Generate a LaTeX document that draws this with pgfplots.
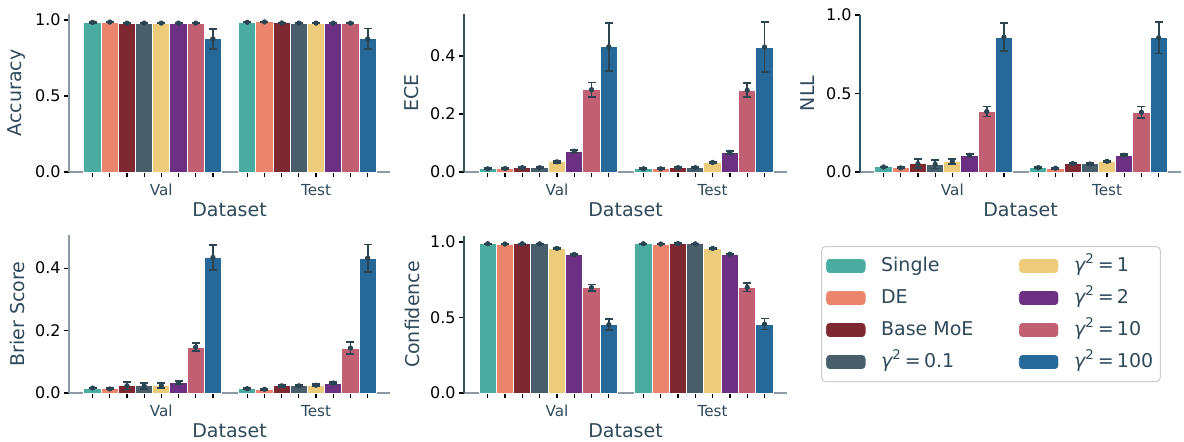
\documentclass[border=0pt]{standalone}
\usepackage{fontspec}
\setmainfont{DejaVu Sans}
\usepackage{pgfplots}
\pgfplotsset{compat=1.18}
\definecolor{cSingle}{HTML}{4AABA0}
\definecolor{cDE}{HTML}{EA846C}
\definecolor{cMoE}{HTML}{7E2932}
\definecolor{cgA}{HTML}{485F6B}
\definecolor{cgB}{HTML}{ECCC7B}
\definecolor{cgC}{HTML}{6C3082}
\definecolor{cgD}{HTML}{C06072}
\definecolor{cgE}{HTML}{266998}
\definecolor{errc}{HTML}{2B4452}
\definecolor{textc}{HTML}{2E4A5A}
\definecolor{spineg}{HTML}{8C9BA3}
\definecolor{spined}{HTML}{2B5266}
\newcommand{\xtickfont}{\fontsize{7.6}{9}\selectfont}
\newcommand{\ytickfont}{\fontsize{8}{9.5}\selectfont}
\newcommand{\labfont}{\fontsize{9.5}{11}\selectfont}
\newcommand{\gam}[1]{{\itshape γ}\textsuperscript{2}\,=\,#1}
\pgfplotsset{
  base/.style={
    scale only axis, anchor=south west, clip=false,
    xmin=-1.37, xmax=17.3, ymin=0,
    axis x line*=bottom, axis y line*=left,
    axis line style={-, line width=0.7pt, color=spineg},
    xtick={0,1,2,3,4,5,6,7,9,10,11,12,13,14,15,16},
    xticklabels={,,,,Val,,,,,,,,Test,,,},
    tick align=outside, major tick length=2.5pt,
    tick style={line width=0.6pt, color=black},
    x tick label style={font=\xtickfont, text=textc},
    y tick label style={font=\ytickfont, text=black, inner xsep=1.5pt},
    /pgf/number format/assume math mode=true,
    yticklabel style={/pgf/number format/fixed, /pgf/number format/fixed zerofill, /pgf/number format/precision=1},
    label style={font=\labfont, text=textc},
    xlabel={Dataset},
    xlabel style={at={(axis description cs:0.5,0)}, anchor=center, yshift=-19pt},
    ylabel style={at={(axis description cs:0,0.5)}, anchor=center, yshift=26pt},
  },
  bars/.style={ybar, bar width=1, bar shift=0pt, draw=white, line width=0.5pt, fill=#1, forget plot},
  errs/.style={only marks, mark=*, mark size=1.1pt, color=errc, forget plot,
    error bars/.cd, y dir=both, y explicit,
    error bar style={line width=0.85pt, color=errc},
    error mark options={rotate=90, mark size=2pt, line width=0.85pt, color=errc}},
}
\begin{document}
\begin{tikzpicture}
\path[use as bounding box] (0pt,0pt) rectangle (592pt,220.5pt);
% ---------------- Accuracy
\begin{axis}[base, at={(34.5pt,134.5pt)}, width=160.5pt, height=79pt, ymax=1.04,
  ytick={0,0.5,1}, ylabel={Accuracy}]
\addplot[bars=cSingle] coordinates {(0,0.985) (9,0.986)};
\addplot[bars=cDE] coordinates {(1,0.987) (10,0.988)};
\addplot[bars=cMoE] coordinates {(2,0.980) (11,0.981)};
\addplot[bars=cgA] coordinates {(3,0.980) (12,0.980)};
\addplot[bars=cgB] coordinates {(4,0.980) (13,0.980)};
\addplot[bars=cgC] coordinates {(5,0.980) (14,0.980)};
\addplot[bars=cgD] coordinates {(6,0.980) (15,0.980)};
\addplot[bars=cgE] coordinates {(7,0.877) (16,0.876)};
\addplot[errs] table[x=x, y=y, y error=e] {
x y e
0 0.985 0.003
1 0.987 0.002
2 0.980 0.003
3 0.980 0.003
4 0.980 0.003
5 0.980 0.003
6 0.980 0.003
7 0.877 0.066
9 0.986 0.002
10 0.988 0.002
11 0.981 0.002
12 0.980 0.002
13 0.980 0.002
14 0.980 0.002
15 0.980 0.002
16 0.876 0.068
};
\end{axis}
% ---------------- ECE
\begin{axis}[base, at={(232pt,134.5pt)}, width=161.5pt, height=79pt, ymax=0.545,
  ytick={0,0.2,0.4}, ylabel={ECE}, y axis line style={color=errc!85!spineg}]
\addplot[bars=cSingle] coordinates {(0,0.011) (9,0.011)};
\addplot[bars=cDE] coordinates {(1,0.012) (10,0.011)};
\addplot[bars=cMoE] coordinates {(2,0.015) (11,0.015)};
\addplot[bars=cgA] coordinates {(3,0.015) (12,0.015)};
\addplot[bars=cgB] coordinates {(4,0.035) (13,0.033)};
\addplot[bars=cgC] coordinates {(5,0.072) (14,0.068)};
\addplot[bars=cgD] coordinates {(6,0.284) (15,0.282)};
\addplot[bars=cgE] coordinates {(7,0.432) (16,0.431)};
\addplot[errs] table[x=x, y=y, y error=e] {
x y e
0 0.011 0.002
1 0.012 0.002
2 0.015 0.003
3 0.015 0.003
4 0.035 0.003
5 0.072 0.005
6 0.284 0.025
7 0.432 0.083
9 0.011 0.002
10 0.011 0.002
11 0.015 0.002
12 0.015 0.002
13 0.033 0.002
14 0.068 0.005
15 0.282 0.024
16 0.431 0.086
};
\end{axis}
% ---------------- NLL
\begin{axis}[base, at={(430pt,134.5pt)}, width=160.5pt, height=78.5pt, ymax=1.0,
  ytick={0,0.5,1}, ylabel={NLL}, y axis line style={color=spined}]
\addplot[bars=cSingle] coordinates {(0,0.032) (9,0.028)};
\addplot[bars=cDE] coordinates {(1,0.026) (10,0.024)};
\addplot[bars=cMoE] coordinates {(2,0.053) (11,0.054)};
\addplot[bars=cgA] coordinates {(3,0.049) (12,0.051)};
\addplot[bars=cgB] coordinates {(4,0.068) (13,0.068)};
\addplot[bars=cgC] coordinates {(5,0.107) (14,0.107)};
\addplot[bars=cgD] coordinates {(6,0.385) (15,0.380)};
\addplot[bars=cgE] coordinates {(7,0.859) (16,0.855)};
\addplot[errs] table[x=x, y=y, y error=e] {
x y e
0 0.032 0.004
1 0.026 0.004
2 0.053 0.028
3 0.049 0.027
4 0.068 0.016
5 0.107 0.008
6 0.385 0.032
7 0.859 0.090
9 0.028 0.004
10 0.024 0.003
11 0.054 0.005
12 0.051 0.005
13 0.068 0.005
14 0.107 0.006
15 0.380 0.038
16 0.855 0.100
};
\end{axis}
% ---------------- Brier
\begin{axis}[base, at={(34.5pt,24pt)}, width=160.5pt, height=79pt, ymax=0.506,
  ytick={0,0.2,0.4}, ylabel={Brier Score}]
\addplot[bars=cSingle] coordinates {(0,0.016) (9,0.014)};
\addplot[bars=cDE] coordinates {(1,0.013) (10,0.012)};
\addplot[bars=cMoE] coordinates {(2,0.023) (11,0.023)};
\addplot[bars=cgA] coordinates {(3,0.023) (12,0.023)};
\addplot[bars=cgB] coordinates {(4,0.024) (13,0.025)};
\addplot[bars=cgC] coordinates {(5,0.033) (14,0.032)};
\addplot[bars=cgD] coordinates {(6,0.147) (15,0.144)};
\addplot[bars=cgE] coordinates {(7,0.434) (16,0.432)};
\addplot[errs] table[x=x, y=y, y error=e] {
x y e
0 0.016 0.002
1 0.013 0.002
2 0.023 0.012
3 0.023 0.010
4 0.024 0.007
5 0.033 0.005
6 0.147 0.013
7 0.434 0.039
9 0.014 0.002
10 0.012 0.002
11 0.023 0.003
12 0.023 0.002
13 0.025 0.003
14 0.032 0.003
15 0.144 0.020
16 0.432 0.044
};
\end{axis}
% ---------------- Confidence
\begin{axis}[base, at={(232pt,24pt)}, width=161.5pt, height=78.5pt, ymax=1.04,
  ytick={0,0.5,1}, ylabel={Confidence}, y axis line style={color=errc!85!spineg}]
\addplot[bars=cSingle] coordinates {(0,0.989) (9,0.989)};
\addplot[bars=cDE] coordinates {(1,0.987) (10,0.987)};
\addplot[bars=cMoE] coordinates {(2,0.989) (11,0.990)};
\addplot[bars=cgA] coordinates {(3,0.988) (12,0.988)};
\addplot[bars=cgB] coordinates {(4,0.958) (13,0.958)};
\addplot[bars=cgC] coordinates {(5,0.918) (14,0.920)};
\addplot[bars=cgD] coordinates {(6,0.698) (15,0.700)};
\addplot[bars=cgE] coordinates {(7,0.453) (16,0.457)};
\addplot[errs] table[x=x, y=y, y error=e] {
x y e
0 0.989 0.002
1 0.987 0.002
2 0.989 0.002
3 0.988 0.002
4 0.958 0.003
5 0.918 0.003
6 0.698 0.020
7 0.453 0.035
9 0.989 0.002
10 0.987 0.002
11 0.990 0.002
12 0.988 0.002
13 0.958 0.003
14 0.920 0.003
15 0.700 0.028
16 0.457 0.037
};
\end{axis}
% ---------------- Legend
\begin{axis}[scale only axis, anchor=south west, at={(410.5pt,29.5pt)}, width=168pt, height=68pt,
  xmin=0, xmax=1, ymin=0, ymax=1, hide axis, clip=false,
  legend columns=2,
  legend cell align=left,
  legend image code/.code={\draw[#1] (0pt,-3.75pt) rectangle (20pt,3.75pt);},
  legend style={at={(0,1)}, anchor=north west, draw=black!20, line width=0.5pt,
    rounded corners=2pt, inner xsep=2pt, inner ysep=3.5pt,
    font=\labfont, text=textc, row sep=3.5pt,
    nodes={inner sep=1.5pt, text height=7.5pt, text depth=2pt},
    /tikz/every odd column/.append style={column sep=6pt},
    /tikz/every even column/.append style={column sep=21pt}},
]
\addplot[draw=none, forget plot] coordinates {(0,0)};
\addlegendimage{fill=cSingle, draw=white, line width=0.3pt}\addlegendentry{Single}
\addlegendimage{fill=cgB, draw=white, line width=0.3pt}\addlegendentry{\gam{1}}
\addlegendimage{fill=cDE, draw=white, line width=0.3pt}\addlegendentry{DE}
\addlegendimage{fill=cgC, draw=white, line width=0.3pt}\addlegendentry{\gam{2}}
\addlegendimage{fill=cMoE, draw=white, line width=0.3pt}\addlegendentry{Base MoE}
\addlegendimage{fill=cgD, draw=white, line width=0.3pt}\addlegendentry{\gam{10}}
\addlegendimage{fill=cgA, draw=white, line width=0.3pt}\addlegendentry{\gam{0.1}}
\addlegendimage{fill=cgE, draw=white, line width=0.3pt}\addlegendentry{\gam{100}}
\end{axis}
\end{tikzpicture}
\end{document}
